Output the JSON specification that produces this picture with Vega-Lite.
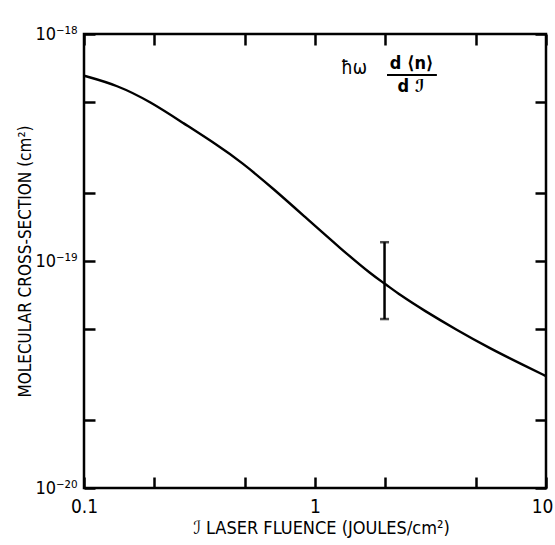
{
  "$schema": "https://vega.github.io/schema/vega-lite/v6.json",
  "width": 462,
  "height": 454,
  "autosize": "none",
  "padding": {"left": 84, "top": 34, "right": 9, "bottom": 57},
  "background": "white",
  "config": {
    "view": {"stroke": "black", "strokeWidth": 2.5},
    "font": "DejaVu Sans Condensed, DejaVu Sans",
    "axis": {"grid": false, "domain": false, "tickColor": "black", "tickWidth": 2.5, "tickSize": -11, "labelColor": "black", "titleColor": "black", "labelFont": "DejaVu Sans Condensed, DejaVu Sans", "titleFont": "DejaVu Sans Condensed, DejaVu Sans", "titleFontWeight": "normal", "labelFlush": false, "labelOverlap": false}
  },
  "datasets": {
    "curve": [
      {"fluence": 0.1, "sigma": 6.55e-19},
      {"fluence": 0.139, "sigma": 5.96e-19},
      {"fluence": 0.194, "sigma": 5.03e-19},
      {"fluence": 0.27, "sigma": 4.04e-19},
      {"fluence": 0.378, "sigma": 3.24e-19},
      {"fluence": 0.48, "sigma": 2.73e-19},
      {"fluence": 0.661, "sigma": 2.08e-19},
      {"fluence": 0.92, "sigma": 1.54e-19},
      {"fluence": 1.283, "sigma": 1.14e-19},
      {"fluence": 1.787, "sigma": 8.59e-20},
      {"fluence": 2.0, "sigma": 7.97e-20},
      {"fluence": 2.333, "sigma": 7.08e-20},
      {"fluence": 2.943, "sigma": 6.08e-20},
      {"fluence": 4.105, "sigma": 4.97e-20},
      {"fluence": 5.72, "sigma": 4.12e-20},
      {"fluence": 7.98, "sigma": 3.48e-20},
      {"fluence": 10, "sigma": 3.11e-20}
    ],
    "err": [{"fluence": 2, "lo": 5.55e-20, "hi": 1.21e-19}]
  },
  "layer": [
    {
      "data": {"name": "curve"},
      "mark": {"type": "line", "color": "black", "strokeWidth": 2.4, "interpolate": "basis", "clip": true},
      "encoding": {
        "x": {"field": "fluence", "type": "quantitative",
          "scale": {"type": "log", "domain": [0.1, 10]},
          "axis": {"orient": "bottom", "values": [0.1, 0.2, 0.5, 1, 2, 5, 10],
            "labelExpr": "abs(datum.value-0.1)<1e-6 ? '0.1' : abs(datum.value-1)<1e-6 ? '1' : abs(datum.value-10)<1e-6 ? '10' : ''",
            "labelFontSize": 19, "labelPadding": 20,
            "labelOffset": {"condition": {"test": "datum.value > 9", "value": -4}, "value": 0},
            "title": "ℐ  LASER FLUENCE (JOULES/cm²)", "titleFontSize": 18, "titlePadding": 3, "titleX": 237}},
        "y": {"field": "sigma", "type": "quantitative",
          "scale": {"type": "log", "domain": [1e-20, 1e-18]},
          "axis": {"orient": "left", "values": [1e-20, 2e-20, 5e-20, 1e-19, 2e-19, 5e-19, 1e-18],
            "labelExpr": "abs(datum.value/1e-18-1)<1e-3 ? '10⁻¹⁸' : abs(datum.value/1e-19-1)<1e-3 ? '10⁻¹⁹' : abs(datum.value/1e-20-1)<1e-3 ? '10⁻²⁰' : ''",
            "labelFontSize": 18, "labelPadding": 18,
            "title": "MOLECULAR CROSS-SECTION (cm²)", "titleFontSize": 17, "titlePadding": 0}}
      }
    },
    {
      "data": {"name": "err"},
      "mark": {"type": "rule", "color": "black", "strokeWidth": 2.5},
      "encoding": {
        "x": {"field": "fluence", "type": "quantitative",
          "scale": {"type": "log", "domain": [0.1, 10]},
          "axis": {"orient": "top", "values": [0.1, 0.2, 0.5, 1, 2, 5, 10], "labels": false, "title": null}},
        "y": {"field": "lo", "type": "quantitative",
          "scale": {"type": "log", "domain": [1e-20, 1e-18]},
          "axis": {"orient": "right", "values": [1e-20, 2e-20, 5e-20, 1e-19, 2e-19, 5e-19, 1e-18], "labels": false, "title": null}},
        "y2": {"field": "hi"}
      }
    },
    {
      "data": {"name": "err"},
      "mark": {"type": "tick", "color": "black", "orient": "horizontal", "size": 9, "thickness": 2.5},
      "encoding": {
        "x": {"field": "fluence", "type": "quantitative", "scale": {"type": "log", "domain": [0.1, 10]}, "axis": null},
        "y": {"field": "lo", "type": "quantitative", "scale": {"type": "log", "domain": [1e-20, 1e-18]}, "axis": null}
      }
    },
    {
      "data": {"name": "err"},
      "mark": {"type": "tick", "color": "black", "orient": "horizontal", "size": 9, "thickness": 2.5},
      "encoding": {
        "x": {"field": "fluence", "type": "quantitative", "scale": {"type": "log", "domain": [0.1, 10]}, "axis": null},
        "y": {"field": "hi", "type": "quantitative", "scale": {"type": "log", "domain": [1e-20, 1e-18]}, "axis": null}
      }
    },
    {
      "data": {"values": [{"t": "ħω"}]},
      "mark": {"type": "text", "fontSize": 19, "color": "black", "align": "center", "baseline": "middle"},
      "encoding": {
        "text": {"field": "t"},
        "x": {"datum": 1.475, "type": "quantitative", "scale": {"type": "log", "domain": [0.1, 10]}, "axis": null},
        "y": {"datum": 7.08e-19, "type": "quantitative", "scale": {"type": "log", "domain": [1e-20, 1e-18]}, "axis": null}
      }
    },
    {
      "data": {"values": [{"t": "d ⟨n⟩"}]},
      "mark": {"type": "text", "fontSize": 18, "fontWeight": "bold", "color": "black", "align": "center", "baseline": "middle"},
      "encoding": {
        "text": {"field": "t"},
        "x": {"datum": 2.62, "type": "quantitative", "scale": {"type": "log", "domain": [0.1, 10]}, "axis": null},
        "y": {"datum": 7.38e-19, "type": "quantitative", "scale": {"type": "log", "domain": [1e-20, 1e-18]}, "axis": null}
      }
    },
    {
      "data": {"values": [{"t": "d ℐ"}]},
      "mark": {"type": "text", "fontSize": 18, "fontWeight": "bold", "color": "black", "align": "center", "baseline": "middle"},
      "encoding": {
        "text": {"field": "t"},
        "x": {"datum": 2.6, "type": "quantitative", "scale": {"type": "log", "domain": [0.1, 10]}, "axis": null},
        "y": {"datum": 5.87e-19, "type": "quantitative", "scale": {"type": "log", "domain": [1e-20, 1e-18]}, "axis": null}
      }
    },
    {
      "data": {"values": [{"t": "fraction"}]},
      "mark": {"type": "rule", "color": "black", "strokeWidth": 2},
      "encoding": {
        "x": {"datum": 2.05, "type": "quantitative", "scale": {"type": "log", "domain": [0.1, 10]}, "axis": null},
        "x2": {"datum": 3.37},
        "y": {"datum": 6.6e-19, "type": "quantitative", "scale": {"type": "log", "domain": [1e-20, 1e-18]}, "axis": null}
      }
    }
  ],
  "resolve": {"axis": {"x": "independent", "y": "independent"}}
}
